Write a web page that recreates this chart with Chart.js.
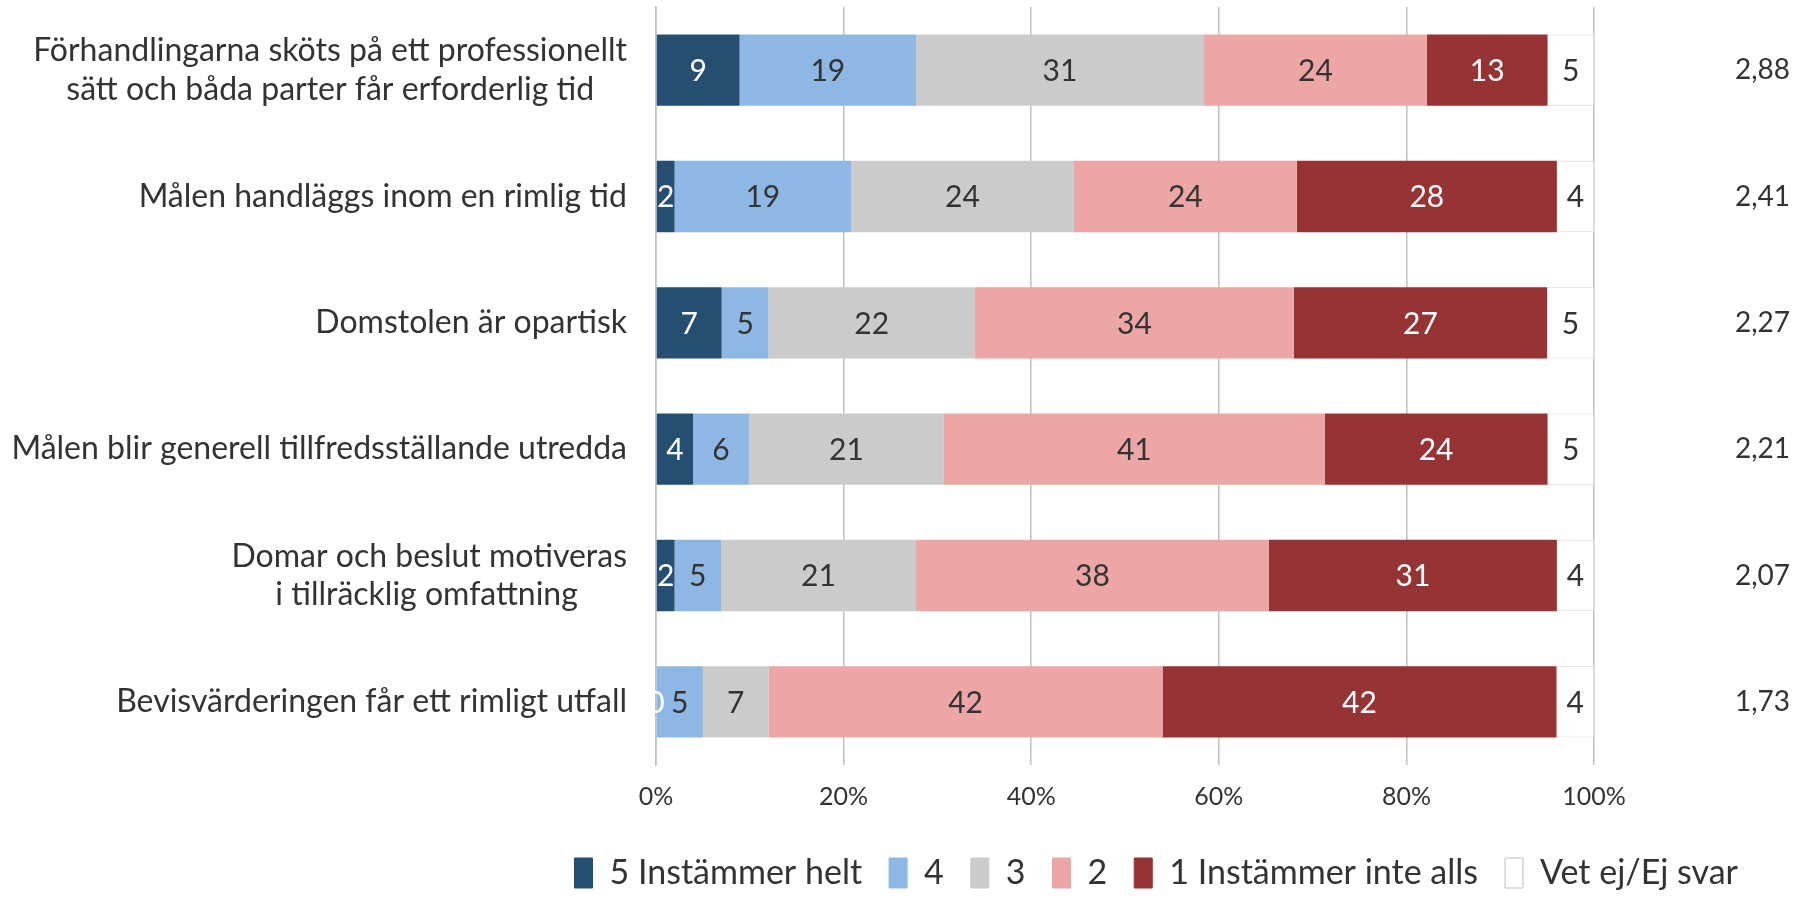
<!DOCTYPE html>
<html>
<head>
<meta charset="utf-8">
<script src="https://cdn.jsdelivr.net/npm/chart.js@4"></script>
<style>
  html, body { margin: 0; padding: 0; background: #fff; }
  #wrap { width: 1805px; height: 898px; position: relative; }
</style>
</head>
<body>
<div id="wrap"><canvas id="chart"></canvas></div>
<script>
// Categories (statements)
const categories = [
  ["Förhandlingarna sköts på ett professionellt", "sätt och båda parter får erforderlig tid"],
  "Målen handläggs inom en rimlig tid",
  "Domstolen är opartisk",
  "Målen blir generell tillfredsställande utredda",
  ["Domar och beslut motiveras", "i tillräcklig omfattning"],
  "Bevisvärderingen får ett rimligt utfall"
];

// Answer shares shown in the bars (%)
const helt = [9, 2, 7, 4, 2, 0];           // 5 Instämmer helt
const fyra = [19, 19, 5, 6, 5, 5];         // 4
const tre = [31, 24, 22, 21, 21, 7];       // 3
const tva = [24, 24, 34, 41, 38, 42];      // 2
const inteAlls = [13, 28, 27, 24, 31, 42]; // 1 Instämmer inte alls
const vetEj = [5, 4, 5, 5, 4, 4];          // Vet ej/Ej svar

// Mean value per statement (right column)
const averages = ["2,88", "2,41", "2,27", "2,21", "2,07", "1,73"];

const seriesNames = ["5 Instämmer helt", "4", "3", "2", "1 Instämmer inte alls", "Vet ej/Ej svar"];
const seriesValues = [helt, fyra, tre, tva, inteAlls, vetEj];
const colors = ["#264e71", "#8eb8e3", "#cbcbcb", "#eba6a5", "#963335", "#ffffff"];
const labelColors = ["#ffffff", "#333333", "#333333", "#333333", "#ffffff", "#333333"];

const FONT = "Lato, 'Open Sans', sans-serif";
const LABEL_SIZE = 32;

// two-line labels are centred on each other, the block right-aligned:
// pad shorter lines with trailing spaces
const measure = document.createElement("canvas").getContext("2d");
measure.font = LABEL_SIZE + "px " + FONT;
function centerLines(lab) {
  if (!Array.isArray(lab)) return lab;
  const widths = lab.map(t => measure.measureText(t).width);
  const maxW = Math.max(...widths);
  const sp = measure.measureText(" ").width;
  return lab.map((t, i) => t + " ".repeat(Math.round((maxW - widths[i]) / 2 / sp)));
}
const yLabels = categories.map(centerLines);

// 100% stacked: each row scaled to its total
const totals = categories.map((_, i) => seriesValues.reduce((s, arr) => s + arr[i], 0));

const datasets = seriesValues.map((vals, k) => ({
  label: seriesNames[k],
  data: vals.map((v, i) => v / totals[i] * 100),
  raw: vals,
  backgroundColor: colors[k],
  borderColor: "#d9d9d9",
  borderWidth: k === 5 ? 1 : 0,
  barPercentage: 0.565,
  categoryPercentage: 1,
  yAxisID: "y"
}));

// Draw value labels centred on each segment
const barLabels = {
  id: "barLabels",
  afterDatasetsDraw(chart) {
    const c = chart.ctx;
    c.save();
    c.font = "30px " + FONT;
    c.textAlign = "center";
    c.textBaseline = "middle";
    chart.data.datasets.forEach((ds, k) => {
      const meta = chart.getDatasetMeta(k);
      meta.data.forEach((el, i) => {
        c.fillStyle = labelColors[k];
        c.fillText(String(ds.raw[i]), (el.x + el.base) / 2, el.y + 1);
      });
    });
    c.restore();
  }
};

const ctx = document.getElementById("chart").getContext("2d");
const chart = new Chart(ctx, {
  type: "bar",
  data: { labels: yLabels, datasets: datasets },
  plugins: [barLabels],
  options: {
    indexAxis: "y",
    responsive: true,
    maintainAspectRatio: false,
    animation: false,
    layout: { padding: { top: 7, right: 40, bottom: -2, left: 0 } },
    scales: {
      x: {
        stacked: true,
        min: 0,
        max: 100,
        ticks: {
          stepSize: 20,
          callback: v => v + "%",
          color: "#333333",
          font: { family: FONT, size: 25 },
          padding: 17
        },
        grid: { color: "#c0c0c0", lineWidth: 1.5, drawTicks: false },
        border: { display: false }
      },
      y: {
        stacked: true,
        ticks: {
          color: "#333333",
          font: { family: FONT, size: LABEL_SIZE },
          padding: 29
        },
        grid: { display: false, drawTicks: false },
        border: { display: true, color: "#c0c0c0", width: 1.5 },
        afterFit: s => { s.width = 656; s.paddingTop = 0; s.paddingBottom = 0; }
      },
      y2: {
        type: "category",
        position: "right",
        labels: averages,
        offset: true,
        ticks: {
          mirror: true,
          color: "#333333",
          font: { family: FONT, size: 28 },
          padding: 196
        },
        grid: { display: false, drawTicks: false },
        border: { display: false },
        afterFit: s => { s.width = 1805 - 40 - 1594; s.paddingTop = 0; s.paddingBottom = 0; }
      }
    },
    plugins: {
      tooltip: { enabled: false },
      legend: {
        position: "bottom",
        align: "end",
        labels: {
          color: "#333333",
          font: { family: FONT, size: 34 },
          boxWidth: 18,
          boxHeight: 30,
          padding: 27,
          generateLabels: ch => ch.data.datasets.map((ds, k) => ({
            text: ds.label,
            fillStyle: colors[k],
            strokeStyle: k === 5 ? "#bfbfbf" : colors[k],
            lineWidth: 1,
            datasetIndex: k,
            fontColor: "#333333"
          }))
        }
      }
    }
  }
});
</script>
</body>
</html>
